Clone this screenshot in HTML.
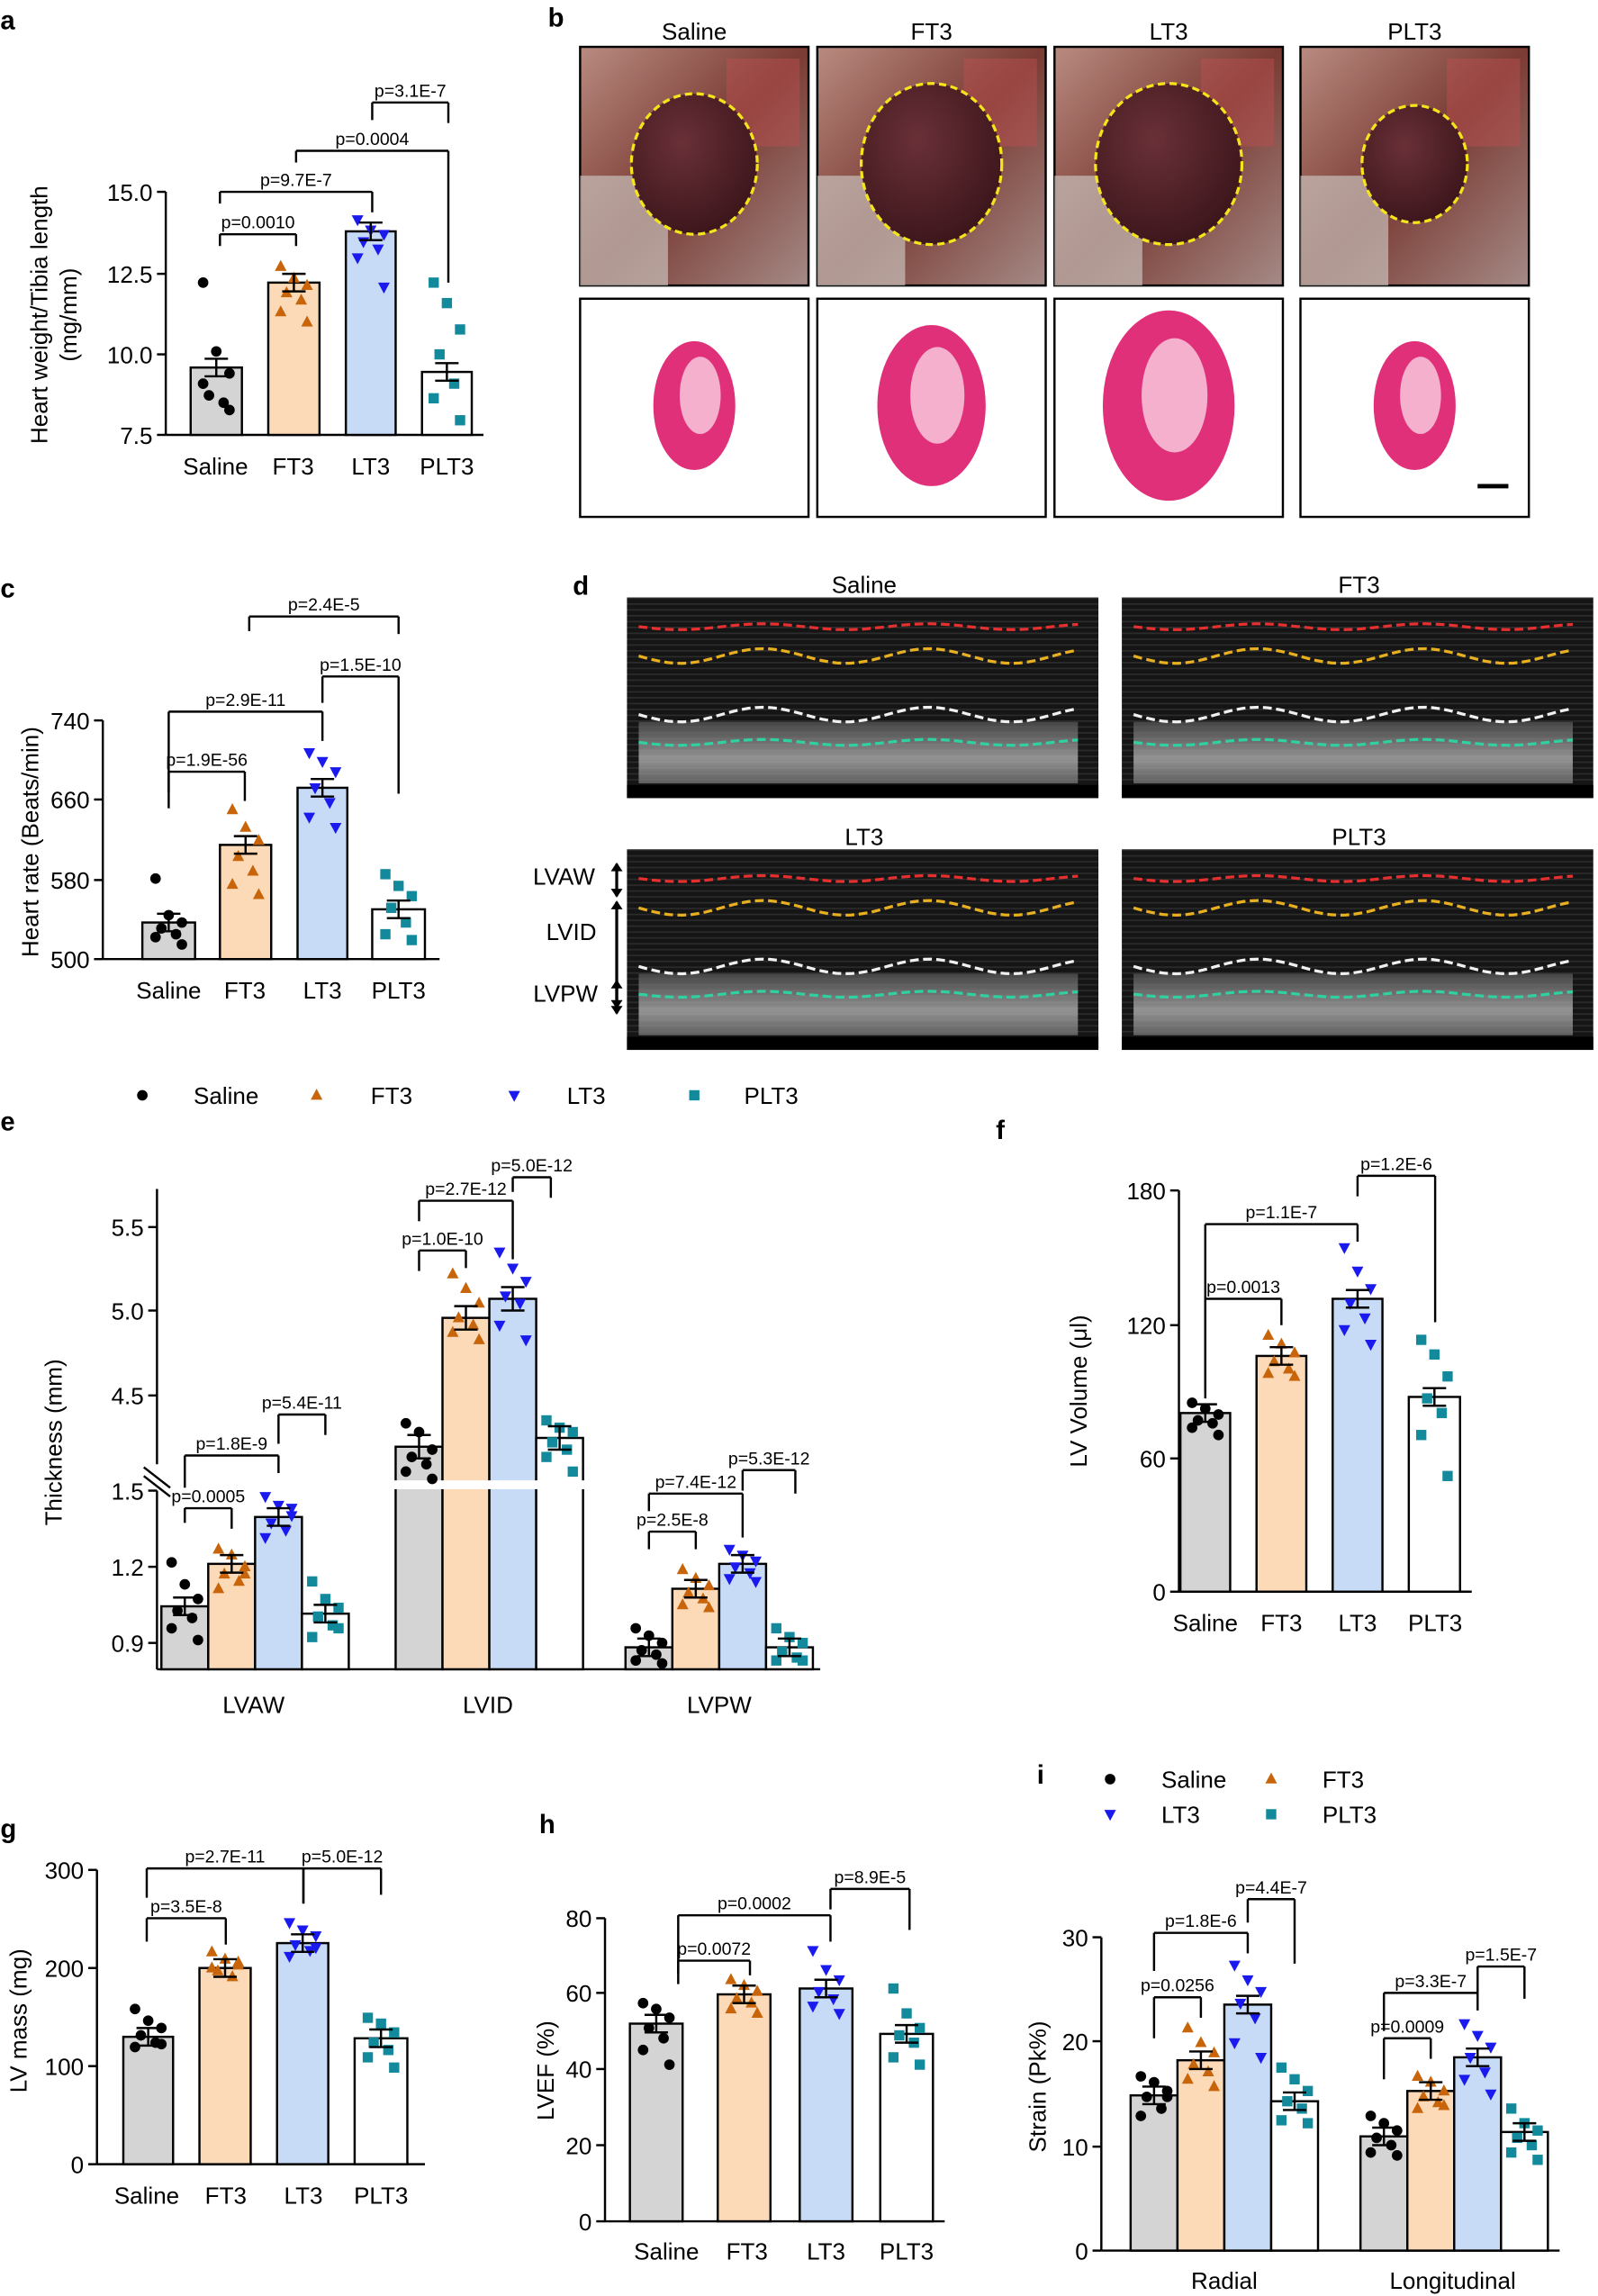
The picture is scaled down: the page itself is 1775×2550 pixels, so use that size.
<!DOCTYPE html>
<html><head><meta charset="utf-8"><style>
html,body{margin:0;padding:0;background:#fff}
svg{display:block}
text{font-family:"Liberation Sans",Arial,sans-serif;fill:#000}
</style></head><body>
<svg id="s" width="1775" height="2550" viewBox="0 0 1091 1568" xmlns="http://www.w3.org/2000/svg">
<defs>
<pattern id="echo" width="6" height="4" patternUnits="userSpaceOnUse"><rect width="6" height="4" fill="#151515"/><rect width="6" height="1" fill="#2c2c2c"/></pattern>
<linearGradient id="photo" x1="0" y1="0" x2="1" y2="1"><stop offset="0" stop-color="#b98b80"/><stop offset="0.5" stop-color="#7a3b34"/><stop offset="1" stop-color="#a58a86"/></linearGradient>
<linearGradient id="ebot" x1="0" y1="0" x2="0" y2="1"><stop offset="0" stop-color="#555"/><stop offset="0.6" stop-color="#bbb"/><stop offset="1" stop-color="#777"/></linearGradient>
<radialGradient id="heart" cx="0.4" cy="0.35" r="0.7"><stop offset="0" stop-color="#6a3038"/><stop offset="1" stop-color="#3a151a"/></radialGradient>
</defs>
<g id="g"></g>
</svg>
<script>
const g=document.getElementById('g');let h='';
const C={gray:'#d4d4d4',or:'#fcdab8',bl:'#c7dbf6',wh:'#fff'};
function T(x,y,t,s,a,extra){h+=`<text x="${x}" y="${y}" font-size="${s||15}" text-anchor="${a||'middle'}" ${extra||''}>${t}</text>`}
function L(x1,y1,x2,y2,w){h+=`<line x1="${x1}" y1="${y1}" x2="${x2}" y2="${y2}" stroke="#000" stroke-width="${w||1.5}"/>`}
function R(x,y,w,hh,f,st){h+=`<rect x="${x}" y="${y}" width="${w}" height="${hh}" fill="${f}" stroke="${st===undefined?'#000':st}" stroke-width="1.5"/>`}
function M(t,x,y){
 if(t==0)h+=`<circle cx="${x}" cy="${y}" r="3.6" fill="#000"/>`;
 if(t==1)h+=`<polygon points="${x},${y-4.5} ${x-4},${y+3} ${x+4},${y+3}" fill="#c8640a"/>`;
 if(t==2)h+=`<polygon points="${x},${y+4.5} ${x-4},${y-3} ${x+4},${y-3}" fill="#1a1aee"/>`;
 if(t==3)h+=`<rect x="${x-3.5}" y="${y-3.5}" width="7" height="7" fill="#138a9c"/>`;}
const fills=[C.gray,C.or,C.bl,C.wh];
function bar(x1,x2,top,base,i,spread){R(x1,top,x2-x1,base-top,fills[i]);
 const c=(x1+x2)/2;const sp=spread||[];
 const offs=[-9,0,9,-5,5,-9,9];
 sp.forEach((y,k)=>M(i,c+offs[k%7],y));
 const e=6;L(c-8,top-e,c+8,top-e);L(c-8,top+e,c+8,top+e);L(c,top-e,c,top+e);}
function br(x1,x2,y,d1,d2,t){L(x1,y+d1,x1,y);L(x1,y,x2,y);L(x2,y,x2,y+d2);T((x1+x2)/2,y-4,t,12);}
function yax(x,ticks,top,bot){L(x,top,x,bot);ticks.forEach(([y,l])=>{L(x-6,y,x,y);T(x-9,y+6,l,16,'end')});}
function lab(x,y,t){T(x,y,t,18,'start','font-weight="bold"')}
function ylab(x,y,t,s){h+=`<text x="${x}" y="${y}" font-size="${s||16}" text-anchor="middle" transform="rotate(-90 ${x} ${y})">${t}</text>`}

// a
lab(0,20,'a');
yax(113,[[131,'15.0'],[187,'12.5'],[242,'10.0'],[297,'7.5']],131,297);
L(113,297,330,297);
bar(130,165,251,297,0,[193,240,255,270,275,262,280]);
bar(183,218,193,297,1,[182,190,195,200,205,213,220]);
bar(236,270,158,297,2,[150,157,160,165,170,176,196]);
bar(288,322,254,297,3,[193,207,225,242,262,272,287]);
['Saline','FT3','LT3','PLT3'].forEach((t,i)=>T([147,200,253,305][i],324,t,16));
ylab(32,215,'Heart weight/Tibia length');ylab(52,215,'(mg/mm)');
br(150,202,160,8,8,'p=0.0010');br(150,254,131,8,14,'p=9.7E-7');br(202,306,103,8,90,'p=0.0004');br(254,306,70,12,14,'p=3.1E-7');

// b
lab(374,18,'b');
[[396,'Saline'],[558,'FT3'],[720,'LT3'],[888,'PLT3']].forEach(([x,t],i)=>{
 T(x+78,27,t,16);
 R(x,32,156,163,'url(#photo)','#000');
 h+=`<rect x="${x+100}" y="40" width="50" height="60" fill="#b85050" opacity="0.5"/>`;
 h+=`<rect x="${x}" y="120" width="60" height="75" fill="#c9c0bb" opacity="0.7"/>`;
 const rx=[43,48,50,36][i],ry=[48,55,55,40][i];
 h+=`<ellipse cx="${x+78}" cy="112" rx="${rx}" ry="${ry}" fill="url(#heart)"/>`;
 h+=`<ellipse cx="${x+78}" cy="112" rx="${rx}" ry="${ry}" fill="none" stroke="#f4e41b" stroke-width="2" stroke-dasharray="5 3"/>`;
 R(x,204,156,149,'#fff');
 const pr=[[28,44],[37,55],[45,65],[28,44]][i];
 h+=`<ellipse cx="${x+78}" cy="${277}" rx="${pr[0]}" ry="${pr[1]}" fill="#e0307a"/>`;
 h+=`<ellipse cx="${x+82}" cy="${270}" rx="${pr[0]*0.5}" ry="${pr[1]*0.6}" fill="#f4b0cc"/>`;
});
L(1009,332,1030,332,3);

// c
lab(0,408,'c');
yax(70,[[492,'740'],[546,'660'],[601,'580'],[655,'500']],492,655);
L(70,655,300,655);
bar(97,133,630,655,0,[600,625,630,634,638,640,645]);
bar(150,185,577,655,1,[553,565,574,585,595,604,611]);
bar(203,237,538,655,2,[514,520,527,538,548,558,565]);
bar(254,290,621,655,3,[597,605,612,620,630,638,642]);
['Saline','FT3','LT3','PLT3'].forEach((t,i)=>T([115,167,220,272][i],682,t,16));
ylab(26,575,'Heart rate (Beats/min)');
br(115,167,527,25,20,'p=1.9E-56');br(115,220,486,55,20,'p=2.9E-11');br(220,272,462,18,80,'p=1.5E-10');br(170,272,421,10,12,'p=2.4E-5');

// d
lab(391,406,'d');
[[428,408,'Saline'],[766,408,'FT3'],[428,580,'LT3'],[766,580,'PLT3']].forEach(([x,y,t])=>{
 T(x+162,y-3,t,16);
 h+=`<rect x="${x}" y="${y}" width="322" height="137" fill="url(#echo)"/>`;
 h+=`<rect x="${x+8}" y="${y+85}" width="300" height="42" fill="url(#ebot)" opacity="0.75"/>`;
 h+=`<rect x="${x}" y="${y+128}" width="322" height="9" fill="#000"/>`;
 const cols=['#e53030','#e8b020','#f0f0f0','#30d0a0'],off=[20,40,80,99];
 cols.forEach((c,k)=>{let p='';for(let xx=0;xx<=300;xx+=5){p+=(xx?'L':'M')+(x+8+xx)+','+(y+off[k]+Math.sin(xx/18)*(k==1||k==2?5:2)).toFixed(1)}
 h+=`<path d="${p}" fill="none" stroke="${c}" stroke-width="2" stroke-dasharray="6 3"/>`;});
});
T(385,604,'LVAW',16);T(390,642,'LVID',16);T(386,684,'LVPW',16);
[[590,612],[616,688],[670,692]].forEach(([a,b])=>{L(421,a,421,b,2);h+=`<polygon points="417,${a+5} 425,${a+5} 421,${a-1}"/><polygon points="417,${b-5} 425,${b-5} 421,${b+1}"/>`});

// legend
M(0,97,748);T(132,754,'Saline',16,'start');M(1,216,748);T(253,754,'FT3',16,'start');M(2,351,748);T(387,754,'LT3',16,'start');M(3,474,748);T(508,754,'PLT3',16,'start');

// e
lab(0,772,'e');
yax(107,[[838,'5.5'],[895,'5.0'],[953,'4.5']],812,1000);
yax(107,[[1018,'1.5'],[1070,'1.2'],[1122,'0.9']],1018,1140);
L(98,1002,116,1016);L(98,1008,116,1022);
L(107,1140,560,1140);
ylab(42,985,'Thickness (mm)');
function ebar(x1,top,i,pts){bar(x1,x1+32,top,1140,i,pts)}
ebar(110,1097,0,[1067,1082,1092,1100,1105,1112,1120]);ebar(142,1068,1,[1058,1062,1070,1075,1080,1085,1075]);
ebar(174,1036,2,[1022,1028,1035,1040,1045,1050,1030]);ebar(206,1102,3,[1080,1092,1098,1104,1110,1118,1112]);
R(270,988,32,152,C.gray);R(302,900,32,240,C.or);R(334,887,32,253,C.bl);R(366,982,32,158,C.wh);
h+=`<rect x="268" y="1011" width="135" height="6" fill="#fff"/>`;
[[286,988,0,[972,978,990,995,1000,1005,1010]],[318,900,1,[870,880,890,900,905,910,915]],[350,887,2,[855,866,875,885,890,905,915]],[382,982,3,[970,975,978,985,990,995,1005]]].forEach(([c,t,i,p])=>{const o=[-9,0,9,-5,5,-9,9];p.forEach((y,k)=>M(i,c+o[k],y));L(c-8,t-8,c+8,t-8);L(c-8,t+8,c+8,t+8);L(c,t-8,c,t+8)});
ebar(427,1125,0,[1112,1117,1122,1127,1130,1134,1136]);ebar(459,1085,1,[1072,1078,1083,1088,1092,1096,1098]);
ebar(491,1068,2,[1058,1062,1066,1070,1074,1078,1080]);ebar(523,1125,3,[1112,1118,1122,1128,1132,1134,1134]);
T(173,1170,'LVAW',16);T(333,1170,'LVID',16);T(491,1170,'LVPW',16);
br(126,158,1030,10,14,'p=0.0005');br(126,190,994,22,12,'p=1.8E-9');br(190,222,966,20,14,'p=5.4E-11');
br(286,318,854,14,12,'p=1.0E-10');br(286,350,820,14,40,'p=2.7E-12');br(350,376,804,10,14,'p=5.0E-12');
br(443,475,1046,12,12,'p=2.5E-8');br(443,507,1020,12,30,'p=7.4E-12');br(507,543,1004,14,16,'p=5.3E-12');

// f
lab(680,778,'f');
yax(805,[[813,'180'],[905,'120'],[996,'60'],[1087,'0']],813,1087);
L(805,1087,1005,1087);
bar(806,840,965,1087,0,[958,962,966,970,972,975,980]);bar(858,892,926,1087,1,[912,918,924,930,935,938,940]);
bar(910,944,887,1087,2,[852,868,880,890,900,908,918]);bar(962,997,954,1087,3,[915,925,940,955,965,980,1008]);
['Saline','FT3','LT3','PLT3'].forEach((t,i)=>T([823,875,927,980][i],1114,t,16));
ylab(742,950,'LV Volume (μl)');
br(823,875,887,68,18,'p=0.0013');br(823,927,836,114,12,'p=1.1E-7');br(927,980,803,14,100,'p=1.2E-6');

// g
lab(0,1255,'g');
yax(66,[[1277,'300'],[1344,'200'],[1411,'100'],[1478,'0']],1277,1478);
L(66,1478,290,1478);
bar(84,118,1391,1478,0,[1372,1380,1385,1390,1395,1398,1396]);bar(136,171,1344,1478,1,[1333,1338,1342,1346,1350,1344,1340]);
bar(189,224,1327,1478,2,[1313,1318,1322,1328,1332,1336,1330]);bar(242,278,1392,1478,3,[1378,1382,1388,1395,1400,1405,1412]);
['Saline','FT3','LT3','PLT3'].forEach((t,i)=>T([100,154,207,260][i],1505,t,16));
ylab(18,1380,'LV mass (mg)');
br(100,154,1310,16,18,'p=3.5E-8');br(100,207,1276,20,24,'p=2.7E-11');br(207,260,1276,24,18,'p=5.0E-12');

// h
lab(368,1252,'h');
yax(413,[[1310,'80'],[1361,'60'],[1413,'40'],[1465,'20'],[1517,'0']],1310,1517);
L(413,1517,645,1517);
bar(430,466,1382,1517,0,[1368,1372,1378,1385,1392,1400,1410]);bar(490,526,1362,1517,1,[1352,1356,1360,1365,1368,1372,1375]);
bar(546,582,1358,1517,2,[1332,1345,1352,1360,1365,1370,1375]);bar(601,637,1389,1517,3,[1358,1375,1385,1390,1395,1405,1410]);
['Saline','FT3','LT3','PLT3'].forEach((t,i)=>T([455,510,564,619][i],1543,t,16));
ylab(378,1414,'LVEF (%)');
br(463,512,1339,16,10,'p=0.0072');br(463,567,1308,40,18,'p=0.0002');br(567,621,1290,14,28,'p=8.9E-5');

// i
lab(708,1218,'i');
M(0,758,1215);T(793,1221,'Saline',16,'start');M(1,868,1215);T(903,1221,'FT3',16,'start');
M(2,758,1239);T(793,1245,'LT3',16,'start');M(3,868,1239);T(903,1245,'PLT3',16,'start');
yax(752,[[1323,'30'],[1394,'20'],[1466,'10'],[1537,'0']],1323,1537);
L(752,1537,1065,1537);
bar(772,804,1431,1537,0,[1418,1422,1428,1432,1440,1445,1432]);bar(804,836,1407,1537,1,[1385,1395,1402,1410,1415,1420,1425]);
bar(836,868,1369,1537,2,[1342,1352,1360,1368,1378,1395,1405]);bar(868,900,1435,1537,3,[1412,1420,1428,1435,1440,1448,1450]);
bar(929,961,1459,1537,0,[1445,1450,1455,1460,1465,1470,1472]);bar(961,993,1428,1537,1,[1418,1422,1428,1432,1436,1440,1438]);
bar(993,1025,1405,1537,2,[1382,1390,1398,1405,1415,1420,1430]);bar(1025,1057,1456,1537,3,[1440,1450,1455,1460,1465,1470,1475]);
T(836,1563,'Radial',16);T(992,1563,'Longitudinal',16);
ylab(714,1425,'Strain (Pk%)');
br(788,820,1364,28,14,'p=0.0256');br(788,852,1320,26,14,'p=1.8E-6');br(852,884,1297,16,44,'p=4.4E-7');
br(945,977,1392,28,14,'p=0.0009');br(945,1009,1361,26,12,'p=3.3E-7');br(1009,1041,1343,18,22,'p=1.5E-7');

g.innerHTML=h;
</script>
</body></html>
